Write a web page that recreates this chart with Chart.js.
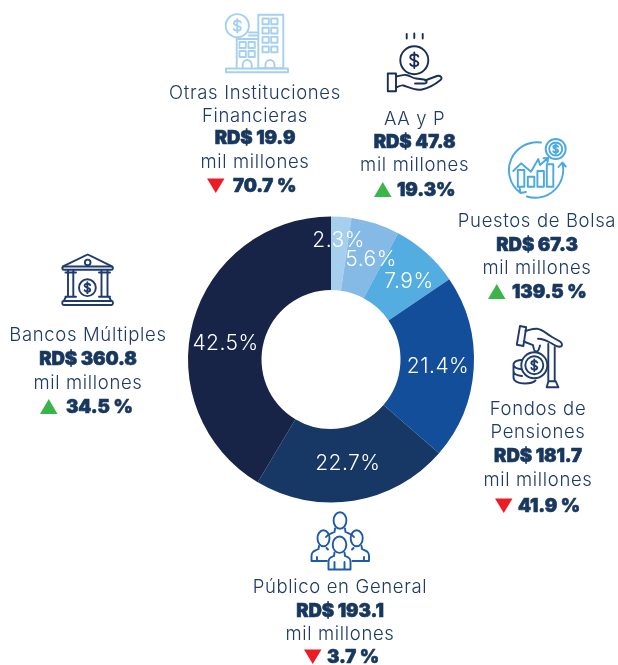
<!DOCTYPE html>
<html lang="es">
<head>
<meta charset="utf-8">
<title>Distribución por sector</title>
<style>
html,body{margin:0;padding:0;background:#fff;width:618px;height:665px;overflow:hidden}
#wrap{position:relative;width:618px;height:665px}
canvas,svg.icons{position:absolute;left:0;top:0}
svg.icons{fill:none;stroke-linecap:round;stroke-linejoin:round}
</style>
</head>
<body>
<div id="wrap">
<svg class="icons" width="618" height="665" viewBox="0 0 618 665" aria-hidden="true">
<defs>
<path id="dollar" vector-effect="non-scaling-stroke" d="M3.5,-3.2 C3,-4.8 1.5,-5 0,-5 C-2,-5 -3.5,-4 -3.5,-2.5 C-3.5,0 3.5,0 3.5,2.5 C3.5,4 2,5 0,5 C-1.5,5 -3,4.8 -3.5,3.2 M0,-6.8 V6.8"/>
</defs>
<!-- Otras Instituciones -->
<g stroke="#a6d0ef" stroke-width="1.9">
<circle cx="237.3" cy="25.7" r="11.6" fill="#fff"/>
<use href="#dollar" transform="translate(237.3,25.7)"/>
<rect x="258.3" y="14.8" width="25" height="53.5"/>
<path d="M249,32.5H258.3M249,35.5H258.3M236.7,38.5V68.3M236.7,39H258.3"/>
<rect x="262.5" y="18.5" width="6.3" height="5.8"/><rect x="271.2" y="18.5" width="6.3" height="5.8"/>
<rect x="262.5" y="27.7" width="6.3" height="5.8"/><rect x="271.2" y="27.7" width="6.3" height="5.8"/>
<rect x="262.5" y="36.9" width="6.3" height="5.8"/><rect x="271.2" y="36.9" width="6.3" height="5.8"/>
<rect x="262.5" y="46.5" width="6.3" height="5.8"/><rect x="271.2" y="46.5" width="6.3" height="5.8"/>
<rect x="239.5" y="42" width="6.3" height="6"/><rect x="248.5" y="42" width="6.3" height="6"/>
<rect x="239.5" y="51" width="6.3" height="6"/><rect x="248.5" y="51" width="6.3" height="6"/>
<path d="M242.7,68V64.5a4.5,4.5 0 0 1 9,0V68M265.5,68V64.5a4.5,4.5 0 0 1 9,0V68"/>
<rect x="226" y="68.5" width="62" height="3.8"/>
</g>
<!-- AA y P -->
<g stroke="#1a2f57" stroke-width="1.9">
<circle cx="414.3" cy="60.3" r="14"/>
<use href="#dollar" transform="translate(414.3,60.3) scale(1.15)"/>
<path d="M406.7,34V38.5M414.3,33.5V38M422.7,34V38.5"/>
<rect x="387.8" y="73.5" width="8.2" height="17.8"/>
<path d="M396,76.5C400,76 403,74.5 406,75C410,75.5 412,78 416,78.5L424,79.5C427.5,80 427.5,83.5 424,83.5H415M425,80.5L437,76C440.5,75 443,78 440.5,80C435,84.5 429,88 422,89.5C415,91 408,87 403.5,85.5C401,85 398.5,86.5 396,87.5"/>
</g>
<!-- Puestos de Bolsa -->
<g stroke="#4aa9df" stroke-width="1.9">
<path d="M541,142.5A28,28 0 0 0 520,192.5M519.5,186.5L520.3,193L526,192M526.8,196.5A28,28 0 0 0 562.5,163.5M558.5,167L562.3,162.5L565.8,166.5"/>
<circle cx="555.7" cy="149" r="10" fill="#fff"/><circle cx="555.7" cy="149" r="6.5"/>
<use href="#dollar" transform="translate(555.7,149) scale(.7)"/>
<rect x="517.8" y="170" width="6.5" height="16.7" fill="#fff"/><rect x="527.8" y="176.7" width="6.5" height="10"/>
<rect x="537.4" y="171" width="6.5" height="15.7"/><rect x="546.8" y="164.3" width="6.5" height="22.4"/>
<path d="M513.3,171L521,163.3L531,171.7L538.3,159L540,165L547.7,158.3M543.5,158.2L548.2,158L547.4,162.5"/>
</g>
<!-- Fondos de Pensiones -->
<g stroke="#1f3a6c" stroke-width="1.9">
<path d="M520,326L526.2,327.2L523.4,346L516.8,344.7Z"/>
<path d="M525.5,331C530,330 532,328.5 537,328.7C542,329 546,333.5 552,337L560,341.5C563,343.5 562.5,346.7 559.5,346.7C556,346.7 553,344 550,342.5C546.5,340.5 543,338.5 538,338.7M523.7,341.5L533,345.2L534,349.5C534.7,352 538,352 538.8,349.5L540,345.5"/>
<path d="M548.3,344V380.8M554.7,347V380.8M546.7,387.3L548.4,381.3H555.8L558.4,387.3Z"/>
<path d="M526,360.5C518,359 513.5,361.5 513.5,364.5C513.5,367 517,368.7 521.5,369.3M513.5,364.5V371C513.5,373.5 517,375.5 522,376M513.5,371V377.5C513.5,381 518,383.5 525,383.5C530,383.5 533.5,382.5 535.5,380.5"/>
<circle cx="534.3" cy="365.3" r="13" fill="#fff"/><circle cx="534.3" cy="365.3" r="9"/>
<use href="#dollar" transform="translate(534.3,365.3) scale(.85)"/>
</g>
<!-- Bancos Múltiples -->
<g stroke="#1f3a6c" stroke-width="1.9">
<path d="M63,266.3L87.7,254.5L112,266.3"/>
<rect x="62.3" y="266.5" width="50.6" height="3.2" rx="1.6"/>
<circle cx="87.7" cy="262.4" r="2.8"/>
<path d="M68,270V296.5M73.3,270V296.5M101.5,270V296.5M107.5,270V296.5M65.5,272.5H76M99,272.5H110M65.5,296.8H76M99,296.8H110"/>
<rect x="62.3" y="301" width="50.6" height="4" rx="1.5"/>
<circle cx="87.4" cy="287.7" r="8.4"/>
<use href="#dollar" transform="translate(87.4,287.7) scale(.8)"/>
<path d="M64,300.5L66,296.8M111,300.5L109,296.8"/>
</g>
<!-- Público en General -->
<g stroke="#1e5aa8" stroke-width="1.9">
<ellipse cx="340" cy="520.5" rx="6.4" ry="8.3"/>
<path d="M335,528.5L334.5,532C331,533.5 328,534 326,537M345,528.5L345.5,532C349,533.5 352,534 354,537"/>
<ellipse cx="323.5" cy="538.3" rx="6" ry="8"/>
<ellipse cx="356.7" cy="538.3" rx="6" ry="8"/>
<path d="M319,546L318.5,549C315,551 311.5,551 311.5,556V561H327M328,549.5L326.5,548M361.5,546L362,549C365.5,551 369,551 369,556V561H352.5M352,549.5L353.5,548M317,561V557M364,561V557"/>
<ellipse cx="339.5" cy="544.7" rx="6.8" ry="8.2" fill="#fff"/>
<path d="M334.5,552.5L334,556C331,557.5 328.5,557.5 328.5,562V569.5H350.5V562C350.5,557.5 348,557.5 345,556L344.5,552.5M334.5,569V562M344.5,569V562"/>
</g>
</svg>
<canvas id="chart" width="618" height="665"></canvas>
</div>
<script src="https://cdn.jsdelivr.net/npm/chart.js@4/dist/chart.umd.min.js"></script>
<script>
// Values
const categories   = ["Otras Instituciones Financieras", "AA y P", "Puestos de Bolsa", "Fondos de Pensiones", "Público en General", "Bancos Múltiples"];
const amounts      = [19.9, 47.8, 67.3, 181.7, 193.1, 360.8];
const shareLabels  = ["2.3%", "5.6%", "7.9%", "21.4%", "22.7%", "42.5%"];
const amountLabels = ["RD$ 19.9", "RD$ 47.8", "RD$ 67.3", "RD$ 181.7", "RD$ 193.1", "RD$ 360.8"];
const changeLabels = ["70.7 %", "19.3%", "139.5 %", "41.9 %", "3.7 %", "34.5 %"];
const changeUp     = [false, true, true, false, false, true];
const nameLines    = [["Otras Instituciones", "Financieras"], ["AA y P"], ["Puestos de Bolsa"], ["Fondos de", "Pensiones"], ["Público en General"], ["Bancos Múltiples"]];
const unitLabel    = "mil millones";

// Styling and layout
const sliceColors = ["#a6cfee", "#85b9e6", "#53ade1", "#134e9b", "#173865", "#172448"];
const labelNudge  = [[0, -13], [7, 1], [7, 1], [1, 1], [0, -1], [-3, 12]];
const calloutX    = [255, 414.6, 537, 538, 340, 88];
const nameBase    = [98.5, 124.5, 226.5, 414.5, 592.5, 340.5];
const amountBase  = [143.5, 147.5, 250.5, 461.5, 616.5, 364.5];
const unitBase    = [167.5, 170.5, 273.5, 485.5, 639.5, 388.5];
const changeBase  = [192, 196, 298, 512, 663, 413];
const triLeft     = [207, 374, 488, 495, 304, 40];
const changeLeft  = [233, 397, 512, 518, 327, 66];
const lineGap     = 23.5;
const FAMILY = "Inter, 'Open Sans', sans-serif";
const TEXT_COLOR = "#1e3a68", BOLD_COLOR = "#17375e";

function boldText(ctx, text, x, y) {
  ctx.font = "900 18.6px " + FAMILY;
  ctx.letterSpacing = "-0.1px";
  ctx.fillStyle = BOLD_COLOR;
  ctx.strokeStyle = BOLD_COLOR;
  ctx.lineWidth = 0.6;
  ctx.lineJoin = "round";
  ctx.strokeText(text, x, y);
  ctx.fillText(text, x, y);
}

const overlay = {
  id: "overlay",
  afterDatasetsDraw(chart) {
    const ctx = chart.ctx;
    ctx.save();
    // percentage labels on the slices
    const arcs = chart.getDatasetMeta(0).data;
    ctx.textAlign = "center";
    ctx.textBaseline = "middle";
    ctx.fillStyle = "#fff";
    ctx.font = "300 21px " + FAMILY;
    ctx.letterSpacing = "0.5px";
    arcs.forEach((arc, i) => {
      const p = arc.tooltipPosition();
      ctx.fillText(shareLabels[i], p.x + labelNudge[i][0], p.y + labelNudge[i][1]);
    });
    // callouts
    ctx.textBaseline = "alphabetic";
    categories.forEach((_, i) => {
      const x = calloutX[i];
      ctx.textAlign = "center";
      ctx.fillStyle = TEXT_COLOR;
      ctx.font = "300 18.5px " + FAMILY;
      ctx.letterSpacing = "0.65px";
      nameLines[i].forEach((ln, k) => ctx.fillText(ln, x, nameBase[i] + k * lineGap));
      ctx.fillText(unitLabel, x, unitBase[i]);
      boldText(ctx, amountLabels[i], x, amountBase[i]);
      ctx.textAlign = "left";
      boldText(ctx, changeLabels[i], changeLeft[i], changeBase[i]);
      // up / down marker
      const t = triLeft[i], b = changeBase[i] + 1;
      ctx.beginPath();
      if (changeUp[i]) {
        ctx.moveTo(t, b); ctx.lineTo(t + 17.5, b); ctx.lineTo(t + 8.75, b - 15);
        ctx.fillStyle = "#39b54a";
      } else {
        ctx.moveTo(t, b - 14.5); ctx.lineTo(t + 17.5, b - 14.5); ctx.lineTo(t + 8.75, b);
        ctx.fillStyle = "#ed1c24";
      }
      ctx.closePath();
      ctx.fill();
    });
    ctx.restore();
  }
};

new Chart(document.getElementById("chart"), {
  type: "doughnut",
  data: {
    labels: categories,
    datasets: [{ data: amounts, backgroundColor: sliceColors, borderWidth: 0, hoverOffset: 0 }]
  },
  options: {
    responsive: false,
    animation: false,
    cutout: "48.6%",
    layout: { padding: { left: 188, right: 144, top: 216.5, bottom: 162.5 } },
    plugins: { legend: { display: false }, tooltip: { enabled: false } },
    events: []
  },
  plugins: [overlay]
});
</script>
</body>
</html>
